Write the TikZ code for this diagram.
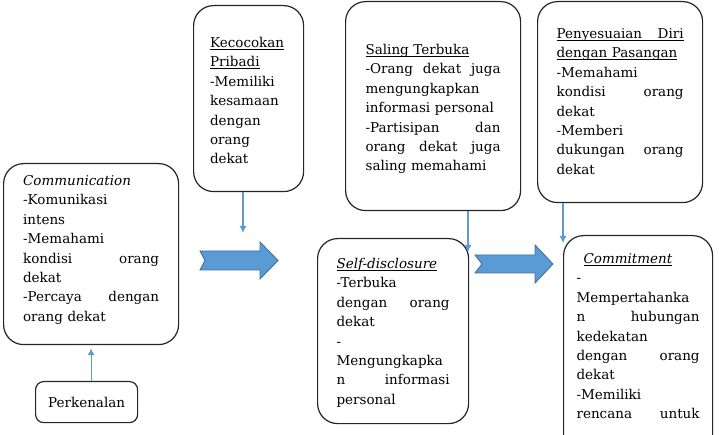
\documentclass[tikz,border=0pt]{standalone}
\usepackage{fontspec}
\setmainfont{DejaVu Serif}
\usepackage{xcolor}
\usepackage{tikz}
\usetikzlibrary{arrows.meta}

\definecolor{linkblue}{HTML}{5B9BD5}
\definecolor{arrowedge}{HTML}{41719C}
\definecolor{boxline}{HTML}{262626}

\newcommand{\jline}[1]{\makebox[\linewidth][s]{\spaceskip=.3333em plus 1fil\relax #1}}
\newcommand{\undl}[1]{\underline{\smash{#1}}}

\begin{document}
\begin{tikzpicture}[
    x=1pt, y=-1pt,
    font=\fontsize{13.5}{19.4}\selectfont,
    stage/.style={draw=boxline, line width=1.2pt, rounded corners=20pt, align=left, inner ysep=0pt, anchor=north west},
    start/.style={draw=boxline, line width=1.2pt, rounded corners=8pt, minimum width=102pt, minimum height=41pt, anchor=north west},
    arrow/.style={-{Latex[length=7pt, width=7pt]}, draw=linkblue, line width=1.1pt},
    bigarrow/.style={fill=linkblue, draw=arrowedge, line width=0.9pt, line join=miter}
]
\useasboundingbox (0,0) rectangle (720,435);
\clip (0,0) rectangle (720,435);

\node[stage, text width=136pt, inner xsep=19.5pt, text height=22pt, text depth=159pt] (comm) at (3,163) {%
\textit{Communication}\\
-Komunikasi\\
intens\\
-Memahami\\
\jline{kondisi orang}\\
dekat\\
\jline{-Percaya dengan}\\
orang dekat};

\node[stage, text width=77pt, inner xsep=16.5pt, text height=42pt, text depth=144pt] (kec) at (193,5) {%
\undl{Kecocokan}\\
\undl{Pribadi}\\
-Memiliki\\
kesamaan\\
dengan\\
orang\\
dekat};

\node[stage, text width=135pt, inner xsep=20pt, text height=53pt, text depth=156pt] (sal) at (345,1) {%
\undl{Saling Terbuka}\\
\jline{-Orang dekat juga}\\
mengungkapkan\\
informasi personal\\
\jline{-Partisipan dan}\\
\jline{orang dekat juga}\\
saling memahami};

\node[stage, text width=127pt, inner xsep=19pt, text height=37pt, text depth=164pt] (pen) at (537,1) {%
\undl{\jline{Penyesuaian Diri}}\\
\undl{dengan Pasangan}\\
-Memahami\\
\jline{kondisi orang}\\
dekat\\
-Memberi\\
\jline{dukungan orang}\\
dekat};

\node[stage, text width=113pt, inner xsep=19pt, text height=30pt, text depth=155pt] (self) at (317,238) {%
\undl{\textit{Self-disclosure}}\\
-Terbuka\\
\jline{dengan orang}\\
dekat\\
-\\
Mengungkapka\\
\jline{n informasi}\\
personal};

\node[stage, text width=123pt, inner xsep=13pt, text height=28pt, text depth=220pt] (commit) at (563,235) {%
\hspace*{7pt}\undl{\textit{Commitment}}\\
-\\
Mempertahanka\\
\jline{n hubungan}\\
kedekatan\\
\jline{dengan orang}\\
dekat\\
-Memiliki\\
\jline{rencana untuk}};

\node[start] (perk) at (35,381) {Perkenalan};

\coordinate (kecend) at (243,233);
\coordinate (salend) at (468,252);
\coordinate (penend) at (563,243);

\draw[arrow, shorten >=3pt] (perk.north -| comm.south) -- (comm.south);
\draw[arrow] (kec.south -| kecend) -- (kecend);
\draw[arrow] (sal.south -| salend) -- (salend);
\draw[arrow] (pen.south -| penend) -- (penend);

% block arrows between the stages
\draw[bigarrow] (200,251) -- (260,251) -- (260,242) -- (278,260.5) -- (260,279) -- (260,270) -- (200,270) -- (205,260.5) -- cycle;
\draw[bigarrow] (475,255) -- (535,255) -- (535,245) -- (553,264) -- (535,283) -- (535,273) -- (475,273) -- (482,264) -- cycle;

\end{tikzpicture}
\end{document}
